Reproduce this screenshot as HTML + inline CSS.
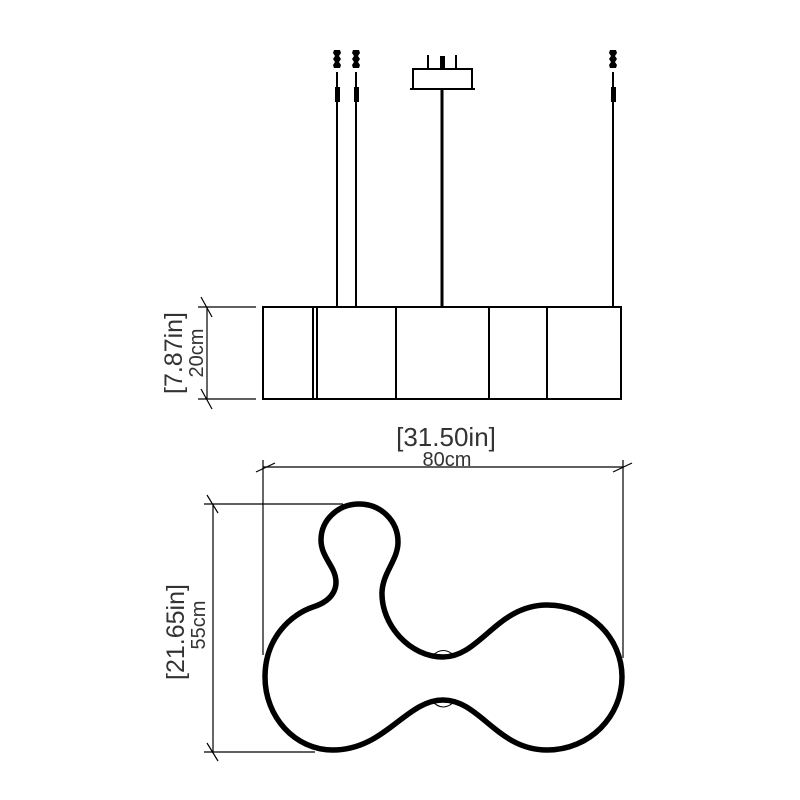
<!DOCTYPE html>
<html><head><style>
html,body{margin:0;padding:0;background:#fff;}
svg{display:block;}
text{font-family:"Liberation Sans",sans-serif;fill:#333;font-weight:300;}
</style></head><body>
<svg width="800" height="800" viewBox="0 0 800 800" xmlns="http://www.w3.org/2000/svg">
<g stroke="#000" fill="none">
<g stroke-width="2">
<line x1="337" y1="72" x2="337" y2="307"/>
<line x1="356" y1="72" x2="356" y2="307"/>
<line x1="613" y1="72" x2="613" y2="307"/>
</g>
<line x1="442" y1="89" x2="442" y2="307" stroke-width="3"/>
<g fill="#000" stroke="none">
<path d="M334,50 h6 l1,3 -2,3 2,3 -2,3 2,3 -1,3 h-6 l-1,-3 2,-3 -2,-3 2,-3 -2,-3z"/>
<path d="M353,50 h6 l1,3 -2,3 2,3 -2,3 2,3 -1,3 h-6 l-1,-3 2,-3 -2,-3 2,-3 -2,-3z"/>
<path d="M610,50 h6 l1,3 -2,3 2,3 -2,3 2,3 -1,3 h-6 l-1,-3 2,-3 -2,-3 2,-3 -2,-3z"/>
<rect x="335" y="87" width="5" height="15"/>
<rect x="354" y="87" width="5" height="15"/>
<rect x="611" y="87" width="5" height="15"/>
<rect x="440" y="56" width="5" height="13"/>
</g>
<g stroke-width="2">
<line x1="428" y1="55" x2="428" y2="69"/>
<line x1="456" y1="55" x2="456" y2="69"/>
<rect x="413" y="69" width="59" height="20"/>
<line x1="410" y1="89" x2="475" y2="89"/>
</g>
<g stroke-width="2">
<rect x="263" y="307" width="358" height="92"/>
<line x1="313" y1="307" x2="313" y2="399"/>
<line x1="317" y1="307" x2="317" y2="399"/>
<line x1="396" y1="307" x2="396" y2="399"/>
<line x1="489" y1="307" x2="489" y2="399"/>
<line x1="547" y1="307" x2="547" y2="399"/>
</g>
<g stroke-width="1.2">
<line x1="207" y1="307" x2="207" y2="399"/>
<line x1="198" y1="307" x2="256" y2="307"/>
<line x1="198" y1="399" x2="256" y2="399"/>
<line x1="201" y1="297" x2="212" y2="317"/>
<line x1="201" y1="389" x2="212" y2="409"/>
<line x1="263" y1="467" x2="624" y2="467"/>
<line x1="263" y1="460" x2="263" y2="655"/>
<line x1="623" y1="460" x2="623" y2="658"/>
<line x1="256" y1="472" x2="275" y2="463"/>
<line x1="613" y1="472" x2="632" y2="463"/>
<line x1="213" y1="504" x2="213" y2="752"/>
<line x1="204" y1="504" x2="343" y2="504"/>
<line x1="204" y1="752" x2="315" y2="752"/>
<line x1="207" y1="495" x2="218" y2="513"/>
<line x1="207" y1="743" x2="218" y2="761"/>
</g>
<path stroke-width="5.5" d="M359,504 C381,504 398,521 398,542 C398,560 383,572 382,592 C381,625 410,657 443,657 C480,657 497,605 547,605 C590,605 622,638 622,677 C622,716 590,750 547,750 C497,750 480,700 443,700 C406,700 385,750 333,750 C295,750 265,717 265,677 C265,637 292,614 313,607 C335,600 340,585 333,570 C328,560 321,552 321,540 C321,520 338,504 359,504 Z"/>
<path stroke-width="1" d="M431,657 Q443,644 456,657"/>
<path stroke-width="1" d="M431,700 Q443,714 456,700"/>
</g>
<text x="446" y="446" font-size="26" text-anchor="middle">[31.50in]</text>
<text x="447" y="466" font-size="20" text-anchor="middle">80cm</text>
<text transform="translate(182,353) rotate(-90)" font-size="25" text-anchor="middle">[7.87in]</text>
<text transform="translate(203,353) rotate(-90)" font-size="20" text-anchor="middle">20cm</text>
<text transform="translate(184,632) rotate(-90)" font-size="25" text-anchor="middle">[21.65in]</text>
<text transform="translate(205,625) rotate(-90)" font-size="20" text-anchor="middle">55cm</text>
</svg>
</body></html>
